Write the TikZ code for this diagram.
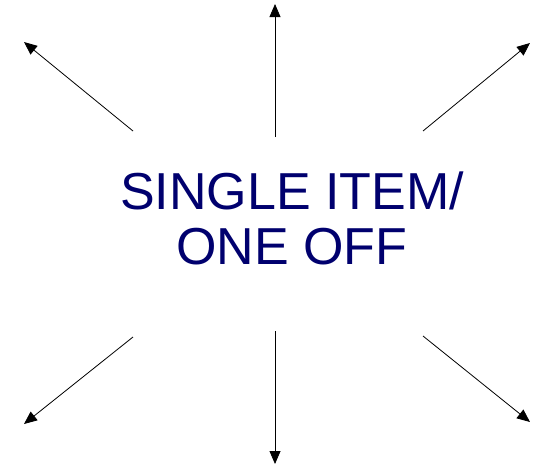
\documentclass[tikz,border=0pt]{standalone}
\usepackage{fontspec}
\setmainfont{Liberation Sans}
\usetikzlibrary{arrows.meta}
\definecolor{navytext}{RGB}{0,0,110}
\begin{document}
\begin{tikzpicture}[x=1pt,y=-1pt,
  ray/.style={draw=black,line width=0.8pt,-{Triangle[length=13pt,width=11pt]}}]
\useasboundingbox (0,0) rectangle (540,467);
\node[text=navytext,align=center,font=\fontsize{52}{55}\selectfont,inner sep=0pt] (t) at (292,218) {SINGLE ITEM/\\ONE OFF};
\coordinate (s1) at (133,131); \coordinate (e1) at (24,42);
\coordinate (s2) at (275,137); \coordinate (e2) at (275,4);
\coordinate (s3) at (423,131); \coordinate (e3) at (530,43);
\coordinate (s4) at (133,337); \coordinate (e4) at (24,424);
\coordinate (s5) at (275,331); \coordinate (e5) at (275,464);
\coordinate (s6) at (423,336); \coordinate (e6) at (530,422);
\foreach \i in {1,...,6}{\draw[ray] (s\i) -- (e\i);}
\end{tikzpicture}
\end{document}
